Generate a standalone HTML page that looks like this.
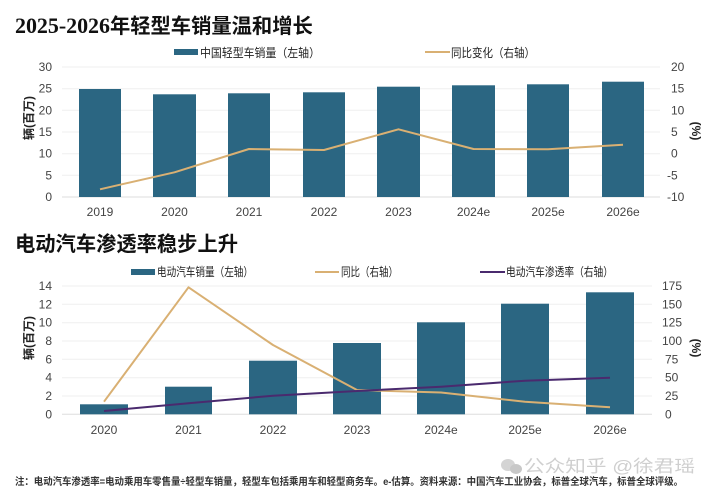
<!DOCTYPE html>
<html><head><meta charset="utf-8"><style>
html,body{margin:0;padding:0;background:#fff;}
svg{display:block;}
text{font-family:"Liberation Sans","Noto Sans CJK SC",sans-serif;}
.t{font-size:12px;fill:#444;}
.lg{font-size:12px;fill:#222;}
.cj{font-family:"Liberation Sans","Noto Sans CJK SC",sans-serif;font-weight:bold;}
</style></head><body>
<svg width="717" height="500" viewBox="0 0 717 500" xmlns="http://www.w3.org/2000/svg">
<rect width="717" height="500" fill="#fff"/>
<!-- Title 1 -->
<text x="15" y="33" font-size="22" font-weight="bold" fill="#111"><tspan font-family="Liberation Serif, serif" textLength="95">2025-2026</tspan><tspan class="cj" font-size="20.3">年轻型车销量温和增长</tspan></text>
<!-- Legend 1 -->
<rect x="174" y="49" width="24" height="6" fill="#2b6682"/>
<text x="200" y="57" class="lg" textLength="120" lengthAdjust="spacingAndGlyphs">中国轻型车销量（左轴）</text>
<line x1="425" y1="52" x2="450" y2="52" stroke="#d9b073" stroke-width="2"/>
<text x="451" y="57" class="lg" textLength="84" lengthAdjust="spacingAndGlyphs">同比变化（右轴）</text>
<!-- gridlines chart1 -->
<g stroke="#efefef" stroke-width="1">
<line x1="62" y1="67" x2="660" y2="67"/>
<line x1="62" y1="88.7" x2="660" y2="88.7"/>
<line x1="62" y1="110.3" x2="660" y2="110.3"/>
<line x1="62" y1="132" x2="660" y2="132"/>
<line x1="62" y1="153.7" x2="660" y2="153.7"/>
<line x1="62" y1="175.3" x2="660" y2="175.3"/>
</g>
<line x1="62" y1="197" x2="660" y2="197" stroke="#ddd" stroke-width="1"/>
<!-- bars chart1 -->
<g fill="#2b6682">
<rect x="79" y="89" width="42" height="108"/>
<rect x="153" y="94.3" width="43" height="102.7"/>
<rect x="228" y="93.3" width="42" height="103.7"/>
<rect x="303" y="92.3" width="42" height="104.7"/>
<rect x="377" y="86.7" width="43" height="110.3"/>
<rect x="452" y="85.3" width="43" height="111.7"/>
<rect x="527" y="84.3" width="42" height="112.7"/>
<rect x="602" y="81.7" width="42" height="115.3"/>
</g>
<polyline fill="none" stroke="#d9b073" stroke-width="2" stroke-linejoin="round" points="100,189.3 174.5,172.3 249,149 324,150 398.5,129.3 473.5,149 548,149.3 623,144.7"/>
<!-- left ticks chart1 -->
<g class="t" text-anchor="end">
<text x="52" y="71">30</text>
<text x="52" y="92.7">25</text>
<text x="52" y="114.3">20</text>
<text x="52" y="136">15</text>
<text x="52" y="157.7">10</text>
<text x="52" y="179.3">5</text>
<text x="52" y="201">0</text>
</g>
<g class="t" text-anchor="start">
<text x="671" y="71">20</text>
<text x="671" y="92.7">15</text>
<text x="671" y="114.3">10</text>
<text x="671" y="136">5</text>
<text x="671" y="157.7">0</text>
<text x="667" y="179.3">-5</text>
<text x="667" y="201">-10</text>
</g>
<g class="t" text-anchor="middle">
<text x="100" y="216">2019</text>
<text x="174.5" y="216">2020</text>
<text x="249" y="216">2021</text>
<text x="324" y="216">2022</text>
<text x="398.5" y="216">2023</text>
<text x="473.5" y="216">2024e</text>
<text x="548" y="216">2025e</text>
<text x="623" y="216">2026e</text>
</g>
<text transform="translate(33,118) rotate(-90)" text-anchor="middle" font-size="12" font-weight="bold" fill="#222">辆(百万)</text>
<text transform="translate(692,131) rotate(90)" text-anchor="middle" font-size="12" font-weight="bold" fill="#222">(%)</text>

<!-- Title 2 -->
<text x="15" y="251" font-size="20.3" font-weight="bold" fill="#111" class="cj" textLength="223" lengthAdjust="spacingAndGlyphs">电动汽车渗透率稳步上升</text>
<!-- Legend 2 -->
<rect x="131" y="269" width="24" height="6" fill="#2b6682"/>
<text x="157" y="276" class="lg" font-size="11.5" textLength="96" lengthAdjust="spacingAndGlyphs">电动汽车销量（左轴）</text>
<line x1="315" y1="272" x2="339" y2="272" stroke="#d9b073" stroke-width="2"/>
<text x="341" y="276" class="lg" font-size="11.5" textLength="57" lengthAdjust="spacingAndGlyphs">同比（右轴）</text>
<line x1="480" y1="272" x2="505" y2="272" stroke="#4a2a6e" stroke-width="2"/>
<text x="506" y="276" class="lg" font-size="11.5" textLength="107" lengthAdjust="spacingAndGlyphs">电动汽车渗透率（右轴）</text>
<!-- gridlines chart2 -->
<g stroke="#efefef" stroke-width="1">
<line x1="62" y1="286" x2="652" y2="286"/>
<line x1="62" y1="304.3" x2="652" y2="304.3"/>
<line x1="62" y1="322.7" x2="652" y2="322.7"/>
<line x1="62" y1="341" x2="652" y2="341"/>
<line x1="62" y1="359.3" x2="652" y2="359.3"/>
<line x1="62" y1="377.7" x2="652" y2="377.7"/>
<line x1="62" y1="396" x2="652" y2="396"/>
</g>
<line x1="62" y1="414.3" x2="652" y2="414.3" stroke="#ddd" stroke-width="1"/>
<g fill="#2b6682">
<rect x="80" y="404.3" width="48" height="10"/>
<rect x="165" y="386.7" width="47" height="27.6"/>
<rect x="249" y="360.7" width="48" height="53.6"/>
<rect x="333" y="343" width="48" height="71.3"/>
<rect x="417" y="322.3" width="48" height="92"/>
<rect x="501" y="303.7" width="48" height="110.6"/>
<rect x="586" y="292.3" width="48" height="122"/>
</g>
<polyline fill="none" stroke="#d9b073" stroke-width="2" stroke-linejoin="round" points="104,401.7 188.5,287.3 273,345 357,390 441,392.5 525,401.7 610,407.3"/>
<polyline fill="none" stroke="#4a2a6e" stroke-width="2" stroke-linejoin="round" points="104,411 188.5,403.3 273,395.7 357,391 441,386.7 525,380.7 610,377.7"/>
<g class="t" text-anchor="end">
<text x="52" y="290">14</text>
<text x="52" y="308.3">12</text>
<text x="52" y="326.7">10</text>
<text x="52" y="345">8</text>
<text x="52" y="363.3">6</text>
<text x="52" y="381.7">4</text>
<text x="52" y="400">2</text>
<text x="52" y="418.3">0</text>
</g>
<g class="t" text-anchor="start">
<text x="662" y="290">175</text>
<text x="662" y="308.3">150</text>
<text x="662" y="326.7">125</text>
<text x="662" y="345">100</text>
<text x="665" y="363.3">75</text>
<text x="665" y="381.7">50</text>
<text x="665" y="400">25</text>
<text x="665" y="418.3">0</text>
</g>
<g class="t" text-anchor="middle">
<text x="104" y="434">2020</text>
<text x="188.5" y="434">2021</text>
<text x="273" y="434">2022</text>
<text x="357" y="434">2023</text>
<text x="441" y="434">2024e</text>
<text x="525" y="434">2025e</text>
<text x="610" y="434">2026e</text>
</g>
<text transform="translate(33,338) rotate(-90)" text-anchor="middle" font-size="12" font-weight="bold" fill="#222">辆(百万)</text>
<text transform="translate(692,348) rotate(90)" text-anchor="middle" font-size="12" font-weight="bold" fill="#222">(%)</text>

<!-- watermark -->
<g fill="#d4d4d4">
<ellipse cx="508" cy="465" rx="7" ry="6"/>
<ellipse cx="516" cy="469" rx="6" ry="5" fill="#c8c8c8"/>
</g>
<text x="524" y="472" font-size="17" fill="#cfcfcf" textLength="171" lengthAdjust="spacingAndGlyphs">公众知乎 @徐君瑶</text>
<!-- note -->
<text x="15" y="485" font-size="10" font-weight="bold" fill="#333" textLength="668" lengthAdjust="spacingAndGlyphs">注：电动汽车渗透率=电动乘用车零售量÷轻型车销量，轻型车包括乘用车和轻型商务车。e-估算。资料来源：中国汽车工业协会，标普全球汽车，标普全球评级。</text>
</svg>
</body></html>
